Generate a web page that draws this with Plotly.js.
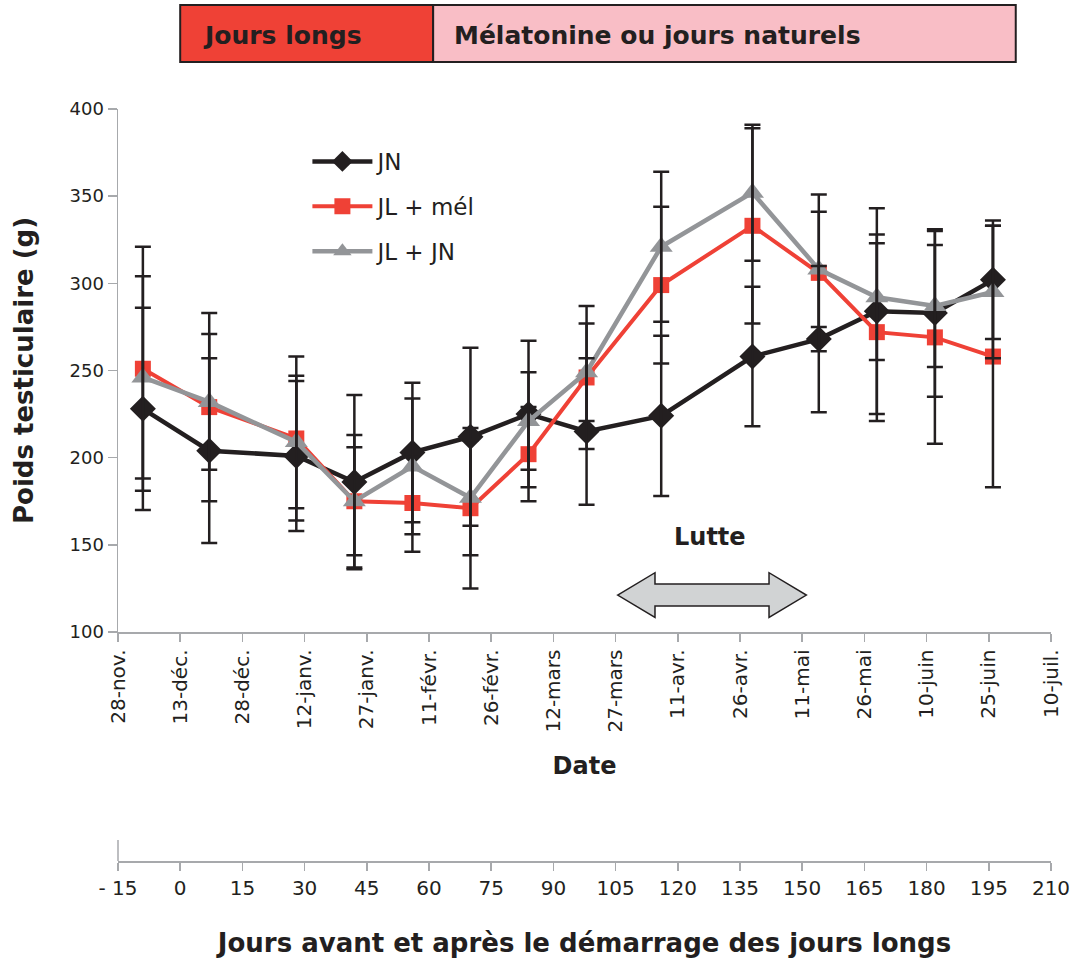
<!DOCTYPE html>
<html>
<head>
<meta charset="utf-8">
<script src="https://cdn.plot.ly/plotly-3.0.1.min.js"></script>
<style>
  body { margin: 0; background: #fff; }
  #chart { width: 1075px; height: 960px; }
</style>
</head>
<body>
<div id="chart"></div>
<script>
// ---- Data ----
// Days relative to the start of long days (day 0 = 13 Dec)
const days = [-9, 7, 28, 42, 56, 70, 84, 98, 116, 138, 154, 168, 182, 196];

const seriesNames = ["JN", "JL + mél", "JL + JN"];

const jnValues  = [228, 204, 201, 186, 203, 212, 225, 215, 224, 258, 268, 284, 283, 302];
const jnErrors  = [ 58,  53,  43,  50,  40,  51,  42,  42,  46,  40,  42,  59,  48,  34];

const melValues = [251, 229, 211, 175, 174, 171, 202, 246, 299, 333, 306, 272, 269, 258];
const melErrors = [ 70,  54,  47,  38,  28,  46,  27,  41,  45,  56,  45,  51,  61,  75];

const jnlValues = [246, 232, 209, 175, 195, 177, 221, 249, 321, 352, 308, 292, 287, 295];
const jnlErrors = [ 58,  39,  38,  31,  39,  33,  28,  28,  43,  39,  33,  36,  35,  38];

// Axis ticks
const dayTicks = [-15, 0, 15, 30, 45, 60, 75, 90, 105, 120, 135, 150, 165, 180, 195, 210];
const dayLabels = ["- 15", "0", "15", "30", "45", "60", "75", "90", "105", "120", "135",
  "150", "165", "180", "195", "210"];
const dateLabels = ["28-nov.", "13-déc.", "28-déc.", "12-janv.", "27-janv.", "11-févr.",
  "26-févr.", "12-mars", "27-mars", "11-avr.", "26-avr.", "11-mai", "26-mai",
  "10-juin", "25-juin", "10-juil."];
const yTicks = [100, 150, 200, 250, 300, 350, 400];

// Treatment periods (days)
const longDaysStart = 0;
const longDaysEnd = 61;
const treatmentEnd = 201.5;
const bannerLabels = ["Jours longs", "Mélatonine ou jours naturels"];

// Mating period (days)
const lutteStart = 105.5;
const lutteEnd = 151;
const lutteLabel = "Lutte";

// ---- Styles ----
const colors = { jn: "#231f20", mel: "#ef4136", jnl: "#939598" };
const inkColor = "#231f20";
const axisGray = "#a7a9ac";
const FONT = "DejaVu Sans";

// error bars are drawn first (on the overlaid day axis, same range) so that all lines sit above them
function errTrace(vals, errs) {
  return {
    x: days, y: vals, type: "scatter", mode: "markers", xaxis: "x2", yaxis: "y",
    marker: { opacity: 0, size: 1 },
    error_y: { type: "data", array: errs, visible: true, color: inkColor, thickness: 2.5, width: 8 },
    showlegend: false, hoverinfo: "skip", cliponaxis: false
  };
}

const traces = [
  errTrace(jnValues, jnErrors),
  errTrace(melValues, melErrors),
  errTrace(jnlValues, jnlErrors),
  {
    x: days, y: jnValues, name: seriesNames[0], type: "scatter", mode: "lines+markers",
    line: { color: colors.jn, width: 4.5 },
    marker: { symbol: "diamond", size: 20, color: colors.jn },
    legendgroup: "a", cliponaxis: false
  },
  {
    x: days, y: melValues, name: seriesNames[1], type: "scatter", mode: "lines+markers",
    line: { color: colors.mel, width: 4 },
    marker: { symbol: "square", size: 16, color: colors.mel },
    legendgroup: "b", cliponaxis: false
  },
  {
    x: days, y: jnlValues, name: seriesNames[2], type: "scatter", mode: "lines+markers",
    line: { color: colors.jnl, width: 4.5 },
    marker: { symbol: "triangle-up", size: 20, color: colors.jnl },
    legendgroup: "c", cliponaxis: false
  }
];

// geometry helpers (plot area: left 118, right 1051, top 109, bottom 861)
const PLOT_TOP = 109, PLOT_BOTTOM = 861;
const plotH = PLOT_BOTTOM - PLOT_TOP;
const yAxisBottomPx = 632;
const yDomainLow = (PLOT_BOTTOM - yAxisBottomPx) / plotH;
function paperY(px) { return (PLOT_BOTTOM - px) / plotH; }

// Arrow geometry in data units
const arrowY = 121.2, shaftHalf = 6.3, headHalf = 12.8, headLen = 9;
const arrowPath =
  `M ${lutteStart},${arrowY} L ${lutteStart + headLen},${arrowY + headHalf} L ${lutteStart + headLen},${arrowY + shaftHalf} ` +
  `L ${lutteEnd - headLen},${arrowY + shaftHalf} L ${lutteEnd - headLen},${arrowY + headHalf} L ${lutteEnd},${arrowY} ` +
  `L ${lutteEnd - headLen},${arrowY - headHalf} L ${lutteEnd - headLen},${arrowY - shaftHalf} ` +
  `L ${lutteStart + headLen},${arrowY - shaftHalf} L ${lutteStart + headLen},${arrowY - headHalf} Z`;

const layout = {
  width: 1075, height: 960,
  margin: { l: 118, r: 24, t: PLOT_TOP, b: 960 - PLOT_BOTTOM },
  paper_bgcolor: "#ffffff", plot_bgcolor: "rgba(0,0,0,0)",
  font: { family: FONT, color: inkColor },
  showlegend: true,
  legend: {
    x: 0.203, y: paperY(140), xanchor: "left", yanchor: "top",
    font: { family: FONT, size: 23, color: inkColor },
    bgcolor: "rgba(0,0,0,0)", tracegroupgap: 12, itemwidth: 60
  },
  xaxis: {
    range: [-15, 210], tickvals: dayTicks, ticktext: dateLabels, tickangle: -90,
    showgrid: false, zeroline: false, showline: true, linecolor: axisGray, linewidth: 1.5,
    ticks: "outside", ticklen: 8, tickcolor: axisGray, tickwidth: 1.5,
    tickfont: { family: FONT, size: 20, color: inkColor },
    title: { text: "Date", font: { family: FONT, size: 24, weight: "bold", color: inkColor }, standoff: 25 },
    anchor: "y", fixedrange: true
  },
  xaxis2: {
    range: [-15, 210], tickvals: dayTicks, ticktext: dayLabels, overlaying: "x", anchor: "free", position: 0, side: "bottom",
    showgrid: false, zeroline: false, showline: true, linecolor: axisGray, linewidth: 1.5,
    ticks: "outside", ticklen: 8, tickcolor: axisGray, tickwidth: 1.5,
    tickfont: { family: FONT, size: 20, color: inkColor },
    title: { text: "Jours avant et après le démarrage des jours longs",
             font: { family: FONT, size: 26, weight: "bold", color: inkColor }, standoff: 35 },
    fixedrange: true
  },
  yaxis: {
    domain: [yDomainLow, 1], range: [100, 400], tickvals: yTicks,
    showgrid: false, zeroline: false, showline: true, linecolor: axisGray, linewidth: 1.5,
    ticks: "outside", ticklen: 9, tickcolor: axisGray, tickwidth: 1.5,
    tickfont: { family: FONT, size: 18, color: inkColor },
    title: { text: "Poids testiculaire (g)", font: { family: FONT, size: 26, weight: "bold", color: inkColor }, standoff: 28 },
    fixedrange: true
  },
  shapes: [
    { type: "rect", xref: "x", yref: "paper", x0: longDaysStart, x1: longDaysEnd,
      y0: paperY(62), y1: paperY(5), fillcolor: "#ef4136", line: { color: inkColor, width: 2 } },
    { type: "rect", xref: "x", yref: "paper", x0: longDaysEnd, x1: treatmentEnd,
      y0: paperY(62), y1: paperY(5), fillcolor: "#f9bec6", line: { color: inkColor, width: 2 } },
    { type: "path", xref: "x", yref: "y", path: arrowPath,
      fillcolor: "#d1d3d4", line: { color: inkColor, width: 1.5 } },
    { type: "line", xref: "paper", yref: "paper", x0: 0, x1: 0, y0: 0, y1: 21 / plotH,
      line: { color: axisGray, width: 1.5 } }
  ],
  annotations: [
    { xref: "x", yref: "paper", x: longDaysStart + 5, y: paperY(35), xanchor: "left", yanchor: "middle",
      text: bannerLabels[0], showarrow: false,
      font: { family: FONT, size: 25, weight: "bold", color: inkColor } },
    { xref: "x", yref: "paper", x: longDaysEnd + 4.5, y: paperY(35), xanchor: "left", yanchor: "middle",
      text: bannerLabels[1], showarrow: false,
      font: { family: FONT, size: 25, weight: "bold", color: inkColor } },
    { xref: "x", yref: "y", x: (lutteStart + lutteEnd) / 2 - 0.5, y: 154.5, xanchor: "center", yanchor: "middle",
      text: lutteLabel, showarrow: false,
      font: { family: FONT, size: 24, weight: "bold", color: inkColor } }
  ]
};

Plotly.newPlot("chart", traces, layout, { staticPlot: true, displayModeBar: false });
</script>
</body>
</html>
